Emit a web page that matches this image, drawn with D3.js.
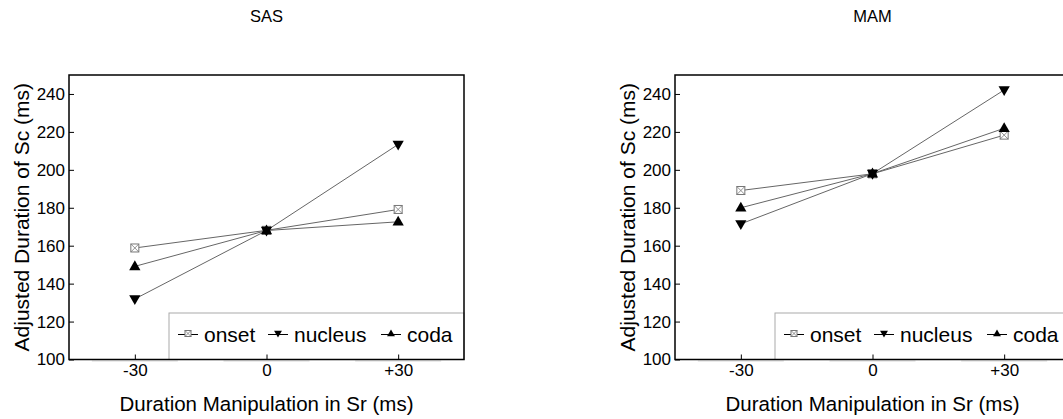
<!DOCTYPE html>
<html>
<head>
<meta charset="utf-8">
<script src="https://cdn.jsdelivr.net/npm/d3@7"></script>
<style>
  html, body { margin: 0; padding: 0; background: #fff; }
  svg { display: block; }
  text { font-family: "Liberation Sans", Arial, Helvetica, sans-serif; fill: #000; }
</style>
</head>
<body>
<svg id="chart" width="1063" height="419"></svg>
<script>
// ---- data ----
const panelTitles = ["SAS", "MAM"];
const xValues = [-30, 0, 30];
const xTickLabels = ["-30", "0", "+30"];
const yTicks = [100, 120, 140, 160, 180, 200, 220, 240];
const seriesNames = ["onset", "nucleus", "coda"];

const sasOnset   = [158.8, 168.1, 179.1];
const sasNucleus = [131.9, 168.0, 213.4];
const sasCoda    = [149.1, 168.0, 172.6];

const mamOnset   = [189.1, 197.9, 218.3];
const mamNucleus = [171.5, 198.0, 242.1];
const mamCoda    = [180.0, 198.0, 221.9];

const yAxisTitle = "Adjusted Duration of Sc (ms)";
const xAxisTitle = "Duration Manipulation in Sr (ms)";

// ---- layout ----
const svg = d3.select("#chart");
const panelLefts = [69, 675];
const plotW = 395, plotTop = 75, plotBottom = 359.5;
const font = '"Liberation Sans", Arial, Helvetica, sans-serif';

const panels = [
  { title: panelTitles[0], series: [sasOnset, sasNucleus, sasCoda] },
  { title: panelTitles[1], series: [mamOnset, mamNucleus, mamCoda] }
];

const triUp = d3.symbol().type(d3.symbolTriangle);
function drawMarker(g, name, x, y, s) {
  if (name === "onset") {
    const h = s / 2;
    g.append("rect").attr("x", x - h).attr("y", y - h).attr("width", s).attr("height", s)
      .attr("fill", "#fff").attr("stroke", "#777").attr("stroke-width", 1);
    g.append("path").attr("d", `M${x-h},${y-h}L${x+h},${y+h}M${x+h},${y-h}L${x-h},${y+h}`)
      .attr("stroke", "#777").attr("stroke-width", 0.8).attr("fill", "none");
  } else {
    const size = s * s * 0.55;
    g.append("path").attr("d", triUp.size(size)())
      .attr("transform", `translate(${x},${y + (name === "nucleus" ? -0.5 : 0.5)}) rotate(${name === "nucleus" ? 180 : 0})`)
      .attr("fill", "#000");
  }
}

panels.forEach((p, i) => {
  const left = panelLefts[i];
  const x = d3.scaleLinear().domain([-45, 45]).range([left, left + plotW]);
  const y = d3.scaleLinear().domain([100, 250]).range([plotBottom, plotTop]);
  const g = svg.append("g");

  // title
  g.append("text").attr("x", x(0)).attr("y", 22).attr("text-anchor", "middle")
    .attr("font-size", 16.5).text(p.title);

  // faint grey strips under axis labels
  g.selectAll(".strip").data(xValues).enter().append("line")
    .attr("x1", d => x(d) - 43).attr("x2", d => x(d) + 43)
    .attr("y1", plotBottom + 1.5).attr("y2", plotBottom + 1.5)
    .attr("stroke", "#d8d8d8").attr("stroke-width", 1);

  // lines
  const line = d3.line().x((d, j) => x(xValues[j])).y(d => y(d));
  p.series.forEach(vals => {
    g.append("path").datum(vals).attr("d", line)
      .attr("fill", "none").attr("stroke", "#666").attr("stroke-width", 1);
  });
  // markers
  p.series.forEach((vals, k) => {
    vals.forEach((v, j) => drawMarker(g, seriesNames[k], x(xValues[j]), y(v), k === 0 ? 8 : 10));
  });

  // legend
  const lx = left + 100, ly = 313;
  g.append("rect").attr("x", lx).attr("y", ly).attr("width", plotW - 100).attr("height", plotBottom - ly)
    .attr("fill", "#fff").attr("stroke", "#aaa").attr("stroke-width", 1);
  const legendOffsets = [9, 99, 212];
  seriesNames.forEach((name, k) => {
    const sx = lx + legendOffsets[k];
    const cy = 334.5;
    g.append("line").attr("x1", sx).attr("x2", sx + 20).attr("y1", cy).attr("y2", cy)
      .attr("stroke", "#000").attr("stroke-width", 1);
    drawMarker(g, name, sx + 10, cy - 1, name === "onset" ? 6 : 7);
    g.append("text").attr("x", sx + 26).attr("y", cy + 7.5).attr("font-size", 21).text(name);
  });

  // axes
  const yAxis = d3.axisLeft(y).tickValues(yTicks).tickSize(-5).tickPadding(4);
  const ya = g.append("g").attr("transform", `translate(${left},0)`).call(yAxis);
  ya.select(".domain").remove();
  ya.selectAll("text").attr("font-size", 17).attr("font-family", font).attr("fill", "#000");
  ya.selectAll("line").attr("stroke", "#000");

  const xAxis = d3.axisBottom(x).tickValues(xValues).tickFormat((d, j) => xTickLabels[j]).tickSize(-5).tickPadding(4);
  const xa = g.append("g").attr("transform", `translate(0,${plotBottom})`).call(xAxis);
  xa.select(".domain").remove();
  xa.selectAll("text").attr("font-size", 17).attr("font-family", font).attr("fill", "#000");
  xa.selectAll("line").attr("stroke", "#000");

  // frame
  g.append("rect").attr("x", left).attr("y", plotTop).attr("width", plotW).attr("height", plotBottom - plotTop)
    .attr("fill", "none").attr("stroke", "#000").attr("stroke-width", 1.5);

  // axis titles
  g.append("text").attr("transform", `translate(${left - 40},${(plotTop + plotBottom) / 2}) rotate(-90)`)
    .attr("text-anchor", "middle").attr("font-size", 21).text(yAxisTitle);
  g.append("text").attr("x", x(0)).attr("y", 411).attr("text-anchor", "middle")
    .attr("font-size", 20.5).text(xAxisTitle);
});
</script>
</body>
</html>
